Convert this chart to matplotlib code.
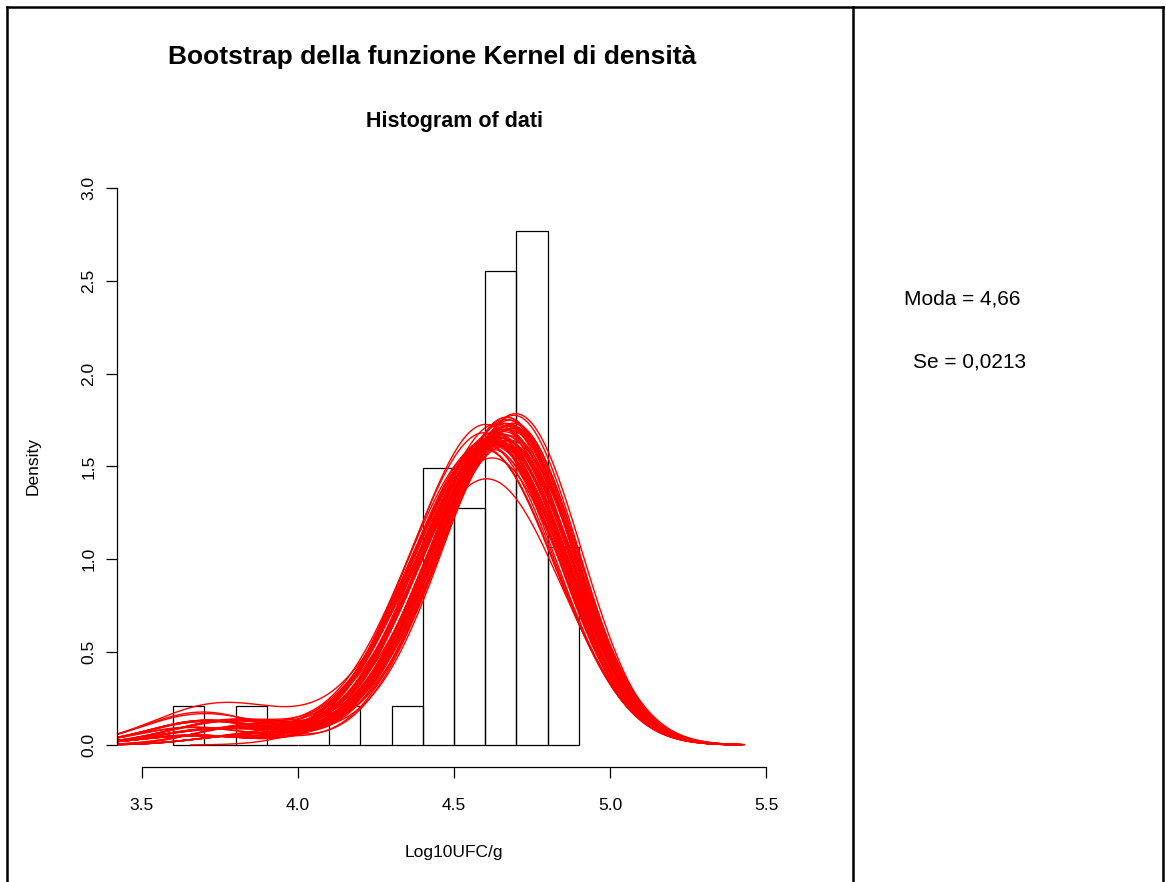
import numpy as np
import matplotlib
matplotlib.use("Agg")
import matplotlib.pyplot as plt
from matplotlib.lines import Line2D

plt.rcParams['font.family'] = ['Liberation Sans', 'DejaVu Sans']

# campione (Log10 UFC/g)
dati_principali = [4.401, 4.41, 4.42, 4.43, 4.45, 4.46, 4.48,
                   4.51, 4.53, 4.55, 4.56, 4.58, 4.59,
                   4.61, 4.61, 4.62, 4.63, 4.64, 4.65, 4.65, 4.66, 4.67, 4.68, 4.69, 4.695,
                   4.71, 4.71, 4.72, 4.73, 4.73, 4.74, 4.75, 4.76, 4.76, 4.77, 4.78, 4.79, 4.79]
dati_alti = [4.82, 4.84, 4.86, 4.88, 4.89]
dati_bassi = [3.66, 3.84, 4.16, 4.36]
dati = dati_principali + dati_alti + dati_bassi
breaks = [3.6, 3.7, 3.8, 3.9, 4.0, 4.1, 4.2, 4.3, 4.4, 4.5, 4.6, 4.7, 4.8, 4.9]

# repliche bootstrap: molteplicita' dei valori bassi, bandwidth, spostamento del picco
m_a = [1, 0, 2, 1, 1, 0, 1, 2, 0, 1, 1, 3, 0, 1, 2, 1, 0, 1, 1, 2,
       0, 1, 1, 0, 2, 1, 1, 0, 1, 2, 1, 0, 1, 1, 3, 1, 0, 2, 1, 1,
       2, 1, 0, 1, 1, 2, 0, 1, 3, 1, 0, 1, 2, 1, 0, 1, 1, 2, 0, 1]
m_b = [1, 1, 0, 2, 1, 0, 1, 1, 2, 0, 1, 3, 1, 2, 0, 1, 1, 0, 2, 1,
       1, 1, 0, 2, 1, 1, 0, 1, 2, 1, 0, 1, 1, 2, 1, 0, 1, 1, 0, 1,
       1, 2, 1, 0, 1, 1, 2, 0, 1, 1, 1, 0, 1, 1, 2, 0, 1, 1, 1, 2]
m_c = [1, 2, 1, 0, 1, 1, 1, 0, 1, 2, 1, 2, 0, 1, 1, 2, 1, 1, 0, 1,
       1, 2, 1, 0, 1, 1, 1, 2, 1, 0, 1, 1, 2, 1, 0, 1, 1, 0, 1, 1,
       0, 1, 1, 2, 1, 0, 1, 1, 1, 2, 1, 1, 0, 1, 1, 2, 1, 0, 1, 1]
m_d = [1, 1, 2, 1, 0, 1, 2, 1, 1, 1, 0, 2, 2, 1, 1, 0, 1, 2, 1, 1,
       1, 0, 1, 1, 2, 1, 1, 1, 0, 1, 2, 1, 1, 0, 1, 1, 2, 1, 1, 1,
       1, 1, 2, 1, 0, 1, 1, 2, 1, 0, 1, 2, 1, 1, 0, 1, 1, 1, 2, 1]
bw = [0.170, 0.164, 0.178, 0.170, 0.162, 0.168, 0.174, 0.178, 0.164, 0.170,
      0.172, 0.180, 0.164, 0.170, 0.176, 0.166, 0.170, 0.166, 0.178, 0.168,
      0.166, 0.174, 0.162, 0.176, 0.170, 0.164, 0.172, 0.178, 0.166, 0.170,
      0.180, 0.166, 0.168, 0.174, 0.170, 0.162, 0.172, 0.178, 0.164, 0.174,
      0.170, 0.176, 0.168, 0.164, 0.174, 0.170, 0.176, 0.166, 0.178, 0.170,
      0.164, 0.174, 0.168, 0.178, 0.166, 0.172, 0.164, 0.176, 0.170, 0.168]
shift = [-0.03, 0.01, -0.04, -0.01, 0.02, -0.06, -0.02, 0.00, 0.01, -0.05,
         -0.01, -0.05, 0.03, -0.03, -0.04, 0.01, 0.00, -0.06, -0.02, -0.01,
         0.01, -0.04, 0.00, -0.03, -0.06, 0.02, -0.01, -0.04, 0.01, -0.02,
         -0.05, -0.01, 0.01, -0.07, -0.02, 0.00, -0.04, 0.01, -0.03, -0.01,
         -0.05, 0.00, -0.03, 0.02, -0.04, -0.01, -0.07, 0.01, -0.04, -0.02,
         0.00, -0.05, 0.02, -0.03, 0.00, -0.04, -0.01, -0.02, 0.01, -0.06]

W, H = 1166, 882


def fx(x):
    return x / W


def fy(y):
    return 1 - y / H


def kernel_density(points, weights, h, n=512):
    points = np.asarray(points, float)
    weights = np.asarray(weights, float)
    used = points[weights > 0]
    grid = np.linspace(used.min() - 3 * h, used.max() + 3 * h, n)
    w = weights / weights.sum()
    z = (grid[:, None] - points[None, :]) / h
    dens = (np.exp(-0.5 * z ** 2) * w).sum(axis=1) / (h * np.sqrt(2 * np.pi))
    return grid, dens


fig = plt.figure(figsize=(W / 100, H / 100), dpi=100)
ax = fig.add_axes([fx(117), fy(767.3), fx(791) - fx(117), fy(165.7) - fy(767.3)])

ax.hist(dati, bins=breaks, density=True, fill=False, edgecolor='black', linewidth=0.9)

for i in range(len(bw)):
    pts = [v + shift[i] for v in dati_principali] + dati_alti + dati_bassi
    wts = [1] * (len(dati_principali) + len(dati_alti)) + [m_a[i], m_b[i], m_c[i], m_d[i]]
    x, y = kernel_density(pts, wts, bw[i])
    ax.plot(x, y, color='red', linewidth=1.0)

ax.set_xlim(3.42, 5.58)
ax.set_ylim(-0.12, 3.12)
for s in ['top', 'right']:
    ax.spines[s].set_visible(False)
ax.spines['left'].set_bounds(0, 3)
ax.spines['bottom'].set_bounds(3.5, 5.5)
ax.spines['left'].set_linewidth(0.9)
ax.spines['bottom'].set_linewidth(0.9)
ax.set_xticks([3.5, 4.0, 4.5, 5.0, 5.5])
ax.set_xticklabels(['3.5', '4.0', '4.5', '5.0', '5.5'])
ax.set_yticks([0.0, 0.5, 1.0, 1.5, 2.0, 2.5, 3.0])
ax.set_yticklabels(['0.0', '0.5', '1.0', '1.5', '2.0', '2.5', '3.0'],
                   rotation=90, va='center')
ax.tick_params(direction='out', length=8, width=0.9, labelsize=12.5)
ax.tick_params(axis='x', pad=14)
ax.tick_params(axis='y', pad=7)

# testi del grafico
fig.text(fx(454), fy(122), 'Histogram of dati', ha='center', va='center',
         fontsize=15.5, fontweight='bold')
fig.text(fx(454), fy(853), 'Log10UFC/g', ha='center', va='center', fontsize=12.5)
fig.text(fx(33), fy(466), 'Density', ha='center', va='center', fontsize=12.5,
         rotation=90)
fig.text(fx(432), fy(57), 'Bootstrap della funzione Kernel di densità',
         ha='center', va='center', fontsize=19, fontweight='bold')
fig.text(fx(962), fy(299), 'Moda = 4,66', ha='center', va='center', fontsize=15)
fig.text(fx(970), fy(362), 'Se = 0,0213', ha='center', va='center', fontsize=15)

# bordi della tabella
for xs, ys in [([7, 7], [7, H]), ([7, 1163], [7, 7]), ([853, 853], [7, H]),
               ([1163, 1163], [7, H])]:
    fig.add_artist(Line2D([fx(v) for v in xs], [fy(v) for v in ys],
                          color='black', linewidth=1.8))

fig.savefig('out.png', dpi=100)
